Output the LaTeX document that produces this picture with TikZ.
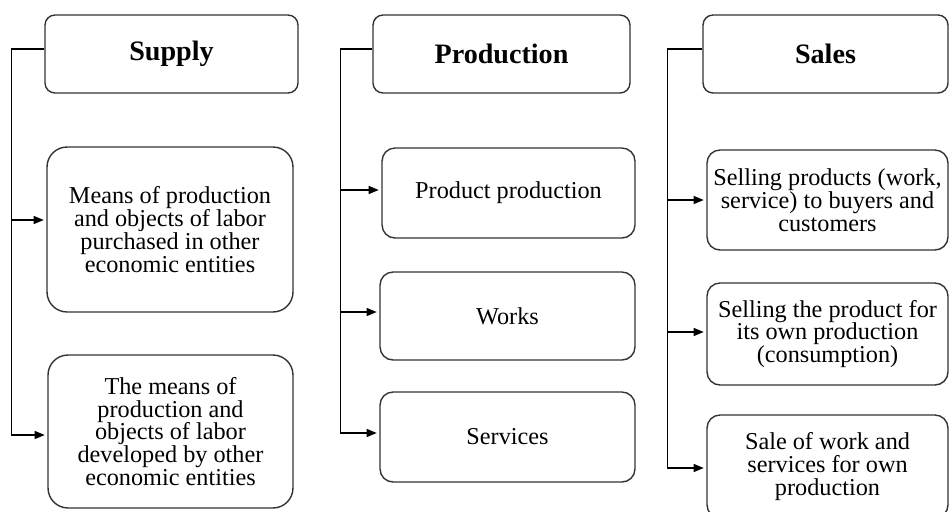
\documentclass[tikz,border=0pt]{standalone}
\usepackage{fontspec}
\setmainfont{Liberation Serif}
\usetikzlibrary{arrows.meta}

\begin{document}
\begin{tikzpicture}[x=0.02cm,y=-0.02cm,
  head/.style={draw=black!80,line width=0.8pt,rounded corners=0.2cm,
    minimum height=1.56cm,font=\fontsize{16}{19}\selectfont\bfseries},
  item/.style={draw=black!80,line width=0.8pt,rounded corners=0.26cm,
    align=center,font=\fontsize{13.8}{13}\selectfont},
  link/.style={line width=0.7pt},
  arr/.style={link,-{Triangle[length=2mm,width=1.6mm]},shorten >=1.5pt}]
  \useasboundingbox (0,0) rectangle (949,511);
  % снабжение
  \node[head,minimum width=5.06cm] (sup) at (171.5,54) {Supply};
  \node[item,rounded corners=0.4cm,minimum width=4.92cm,minimum height=3.3cm]
    (s1) at (170,229.5) {Means of production\\ and objects of labor\\
    purchased in other\\ economic entities};
  \node[item,rounded corners=0.4cm,minimum width=4.9cm,minimum height=3.06cm]
    (s2) at (170.5,431.5) {The means of\\ production and\\ objects of labor\\
    developed by other\\ economic entities};
  \draw[link] ([yshift=1mm]sup.west) -- ++(-33,0) coordinate (sl);
  \foreach \n/\d in {s1/1.9mm,s2/-0.7mm}
    \draw[arr] (sl) |- ([yshift=\d]\n.west);
  % производство
  \node[head,minimum width=5.14cm] (prod) at (501.5,54) {Production};
  \node[item,minimum width=5.06cm,minimum height=1.8cm] (p1) at (508.5,193)
    {Product production};
  \node[item,minimum width=5.1cm,minimum height=1.76cm] (p2) at (507.5,316)
    {Works};
  \node[item,minimum width=5.1cm,minimum height=1.8cm] (p3) at (507.5,437)
    {Services};
  \draw[link] ([yshift=1mm]prod.west) -- ++(-32,0) coordinate (pl);
  \foreach \n/\d in {p1/0.6mm,p2/0.8mm,p3/0.8mm}
    \draw[arr] (pl) |- ([yshift=\d]\n.west);
  % сбыт
  \node[head,minimum width=4.9cm] (sal) at (825.5,54) {Sales};
  \node[item,minimum width=4.82cm,minimum height=2cm] (a1) at (827.5,200)
    {Selling products (work,\\ service) to buyers and\\ customers};
  \node[item,minimum width=4.82cm,minimum height=2.04cm] (a2) at (827.5,334)
    {Selling the product for\\ its own production\\ (consumption)};
  \node[item,minimum width=4.82cm,minimum height=2.06cm] (a3) at (827.5,466.5)
    {Sale of work and\\ services for own\\ production};
  \draw[link] ([yshift=1mm]sal.west) -- ++(-35,0) coordinate (al);
  \foreach \n/\d in {a1/0mm,a2/0.4mm,a3/-0.3mm}
    \draw[arr] (al) |- ([yshift=\d]\n.west);
\end{tikzpicture}
\end{document}
